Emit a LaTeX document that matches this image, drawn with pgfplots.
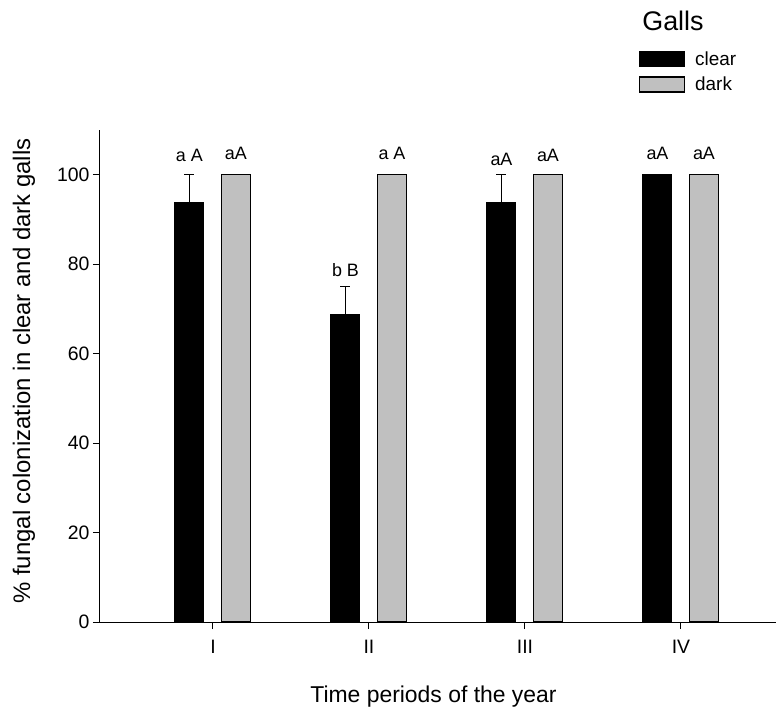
\documentclass[border=0pt]{standalone}
\usepackage{fontspec}
\setmainfont{Liberation Sans}
\usepackage{pgfplots}
\pgfplotsset{compat=1.18}
\definecolor{barg}{RGB}{192,192,192}
\pgfplotsset{boxlegend/.style={legend image code/.code={\draw[##1,line width=1.2bp] (0bp,-7.5bp) rectangle (45bp,7.5bp);}}}
\begin{document}
\begin{tikzpicture}
\path[use as bounding box] (-100bp,-87bp) rectangle (679bp,622bp);
\begin{axis}[
  at={(0,0)}, anchor=south west,
  scale only axis, width=676bp, height=492bp,
  xmin=0.276, xmax=4.609, ymin=0, ymax=110,
  clip=false,
  ybar, bar width=29bp,
  axis lines*=left,
  axis line style={line width=1bp, black},
  xtick={1,2,3,4}, xticklabels={I,II,III,IV},
  ytick={0,20,40,60,80,100},
  tick align=outside, major tick length=7bp,
  tick style={line width=1bp, black},
  /pgf/number format/assume math mode=true,
  tick label style={font=\fontsize{19.5}{22}\selectfont},
  xticklabel style={yshift=-8bp},
  xlabel={Time periods of the year},
  ylabel={\% fungal colonization in clear and dark galls},
  xlabel style={font=\fontsize{23}{26}\selectfont, at={(axis description cs:0.4933,-0.1626)}, anchor=base},
  ylabel style={font=\fontsize{24}{27}\selectfont, at={(axis description cs:-0.1124,0.51)}, anchor=center},
  legend style={draw=none, fill=none, at={(rel axis cs:0.797,1.1635)}, anchor=north west,
    font=\fontsize{19}{21}\selectfont, row sep=6bp, inner sep=0pt,
    /tikz/every odd column/.append style={column sep=8bp}},
  legend cell align=left,
]
\addplot[bar shift=-23.5bp, fill=black, draw=black, line width=1bp,
  boxlegend,
  error bars/.cd, y dir=plus, y explicit, error mark=|,
  error bar style={line width=1.2bp, black},
  error mark options={mark size=5bp, line width=1.2bp, black}]
  coordinates {(1,93.75) +- (0,6.25) (2,68.75) +- (0,6.25) (3,93.75) +- (0,6.25) (4,100) +- (0,0)};
\addplot[bar shift=23bp, fill=barg, draw=black, line width=1.2bp,
  boxlegend]
  coordinates {(1,100) (2,100) (3,100) (4,100)};
\legend{clear,dark}
\tikzset{ann/.style={font=\fontsize{18}{20}\selectfont, inner sep=0pt}}
\node[ann, xshift=-23.5bp] at (axis cs:1,104.4) {a A};
\node[ann, xshift=23bp] at (axis cs:1,104.7) {aA};
\node[ann, xshift=-23.5bp] at (axis cs:2,78.6) {b B};
\node[ann, xshift=23bp] at (axis cs:2,104.7) {a A};
\node[ann, xshift=-23.5bp] at (axis cs:3,103.5) {aA};
\node[ann, xshift=23bp] at (axis cs:3,104.4) {aA};
\node[ann, xshift=-23.5bp] at (axis cs:4,104.8) {aA};
\node[ann, xshift=23bp] at (axis cs:4,104.8) {aA};
\node[font=\fontsize{27}{30}\selectfont, inner sep=0pt] at (rel axis cs:0.8476,1.2215) {Galls};
\end{axis}
\end{tikzpicture}
\end{document}
